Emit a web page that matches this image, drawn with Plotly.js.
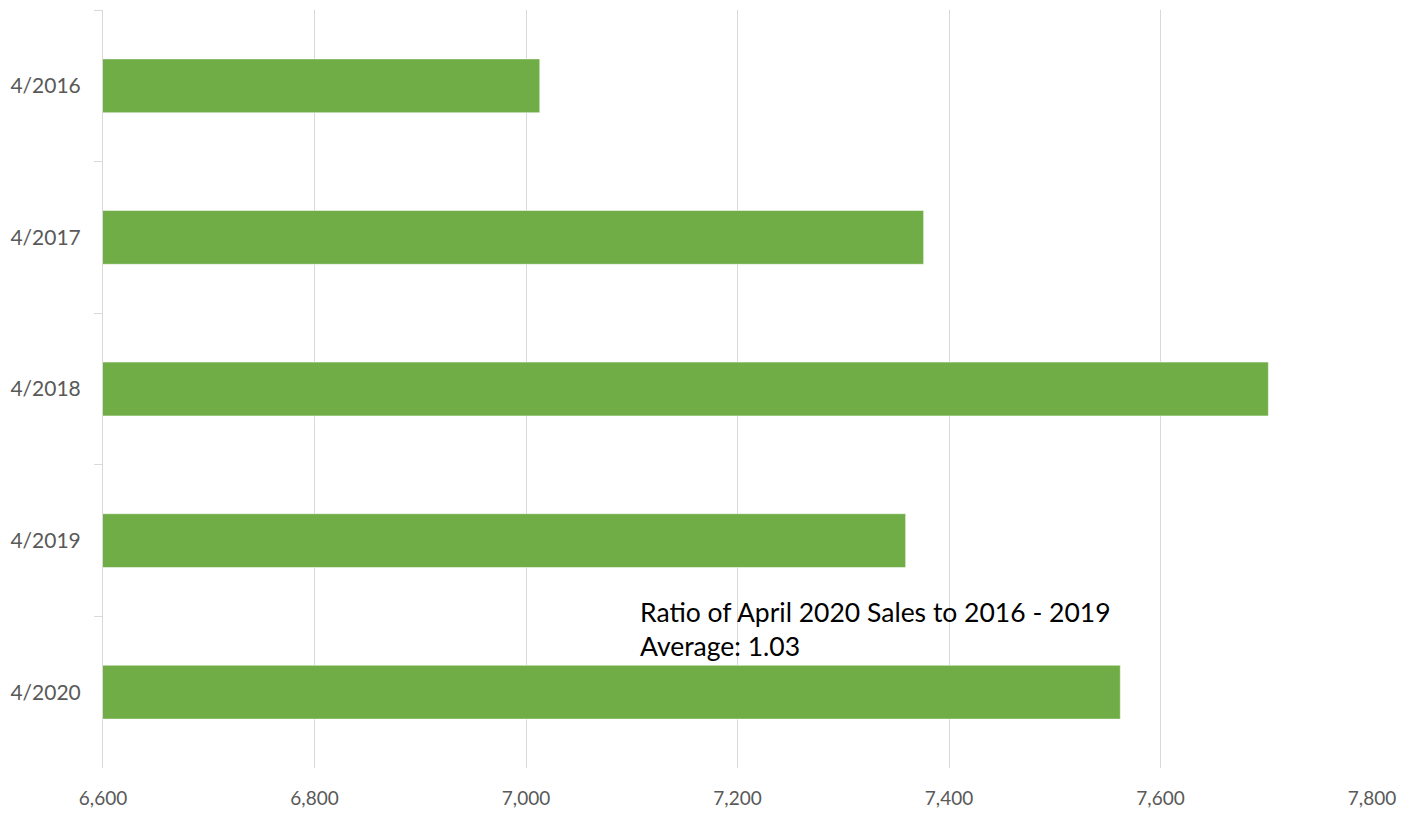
<!DOCTYPE html>
<html>
<head>
<meta charset="utf-8">
<script src="https://cdn.plot.ly/plotly-3.0.1.min.js"></script>
<style>html,body{margin:0;padding:0;background:#fff;}#chart{width:1415px;height:818px;}</style>
</head>
<body>
<div id="chart"></div>
<script>
const categories = ["4/2016", "4/2017", "4/2018", "4/2019", "4/2020"];
const sales = [7013, 7376, 7702, 7359, 7562];
const xTickVals = [6600, 6800, 7000, 7200, 7400, 7600, 7800];
const annotationText = "Ratio of April 2020 Sales to 2016 - 2019<br>Average: 1.03";

const trace = {
  type: "bar",
  orientation: "h",
  y: categories,
  x: sales,
  marker: {color: "#70AD47", line: {color: "#ffffff", width: 0.5}},
  hoverinfo: "x+y"
};

const layout = {
  width: 1415,
  height: 818,
  margin: {l: 103, r: 43, t: 10, b: 50},
  paper_bgcolor: "#ffffff",
  plot_bgcolor: "#ffffff",
  showlegend: false,
  bargap: 0.645,
  font: {family: "Lato, 'Open Sans', sans-serif", color: "#595959", size: 19},
  xaxis: {
    range: [6600, 7800],
    tickvals: xTickVals,
    tickformat: ",d",
    showgrid: true,
    gridcolor: "#d9d9d9",
    gridwidth: 1,
    zeroline: false,
    showline: false,
    ticks: "",
    tickfont: {size: 19, color: "#595959"},
    ticklabelstandoff: 17,
    fixedrange: true
  },
  yaxis: {
    type: "category",
    autorange: "reversed",
    showline: true,
    linecolor: "#d9d9d9",
    linewidth: 1,
    ticks: "outside",
    tickson: "boundaries",
    ticklen: 8,
    tickcolor: "#d9d9d9",
    showgrid: false,
    tickfont: {size: 21, color: "#595959"},
    ticklabelstandoff: 17,
    fixedrange: true
  },
  annotations: [{
    xref: "x",
    yref: "paper",
    x: 7106,
    y: 0.23,
    xanchor: "left",
    yanchor: "top",
    align: "left",
    showarrow: false,
    text: annotationText,
    font: {family: "Lato, 'Open Sans', sans-serif", size: 26.5, color: "#000000"}
  }]
};

Plotly.newPlot("chart", [trace], layout, {displayModeBar: false, staticPlot: true});
</script>
</body>
</html>
